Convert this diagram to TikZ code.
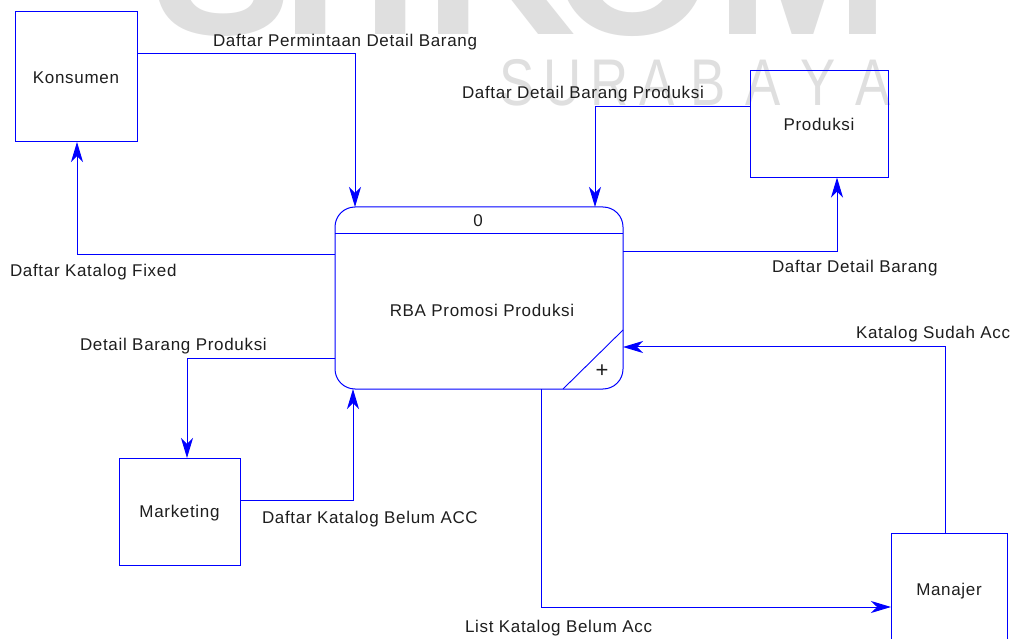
\documentclass[tikz,border=0pt]{standalone}
\usepackage{fontspec}
\setmainfont{Liberation Sans}[LetterSpace=4]
\newfontfamily\wmfont{Liberation Sans}
\usetikzlibrary{arrows.meta,calc}
\definecolor{dfd}{RGB}{0,0,255}
\definecolor{txt}{RGB}{30,30,30}
\definecolor{wm}{RGB}{223,223,223}
\begin{document}
\begin{tikzpicture}[x=1pt,y=-1pt,
  ent/.style={draw=dfd, line width=1pt, inner sep=0pt, outer sep=0pt, text=txt,
    font=\fontsize{17}{20}\selectfont, text height=12.2pt, text depth=0pt},
  procbox/.style={draw=dfd, line width=1pt, inner sep=0pt, outer sep=0pt, rounded corners=20pt},
  flow/.style={draw=dfd, line width=1pt, -{Stealth[length=20pt,width=12pt,inset=6pt]}},
  lbl/.style={text=txt, font=\fontsize{17}{20}\selectfont, inner sep=0pt, outer sep=0pt},
  wmbig/.style={text=wm, font=\wmfont\bfseries\fontsize{210}{210}\selectfont, inner sep=0pt, anchor=base},
  wmsmall/.style={text=wm, font=\wmfont\fontsize{66}{66}\selectfont, inner sep=0pt, anchor=base, xscale=0.8, transform shape}
]
\useasboundingbox (0,0) rectangle (1021,639);
\clip (0,0) rectangle (1021,639);
\fill[white] (0,0) rectangle (1021,639);
% watermark
\node[wmbig] (w1) at (223,35) {S};
\node[wmbig] (w2) at (311,35) {T};
\node[wmbig] (w3) at (391,35) {I};
\node[wmbig] (w4) at (500,35) {K};
\node[wmbig] (w5) at (633,35) {O};
\node[wmbig] (w6) at (803,35) {M};
\node[wmsmall] (s1) at (517,106) {S};
\node[wmsmall] (s2) at (563,106) {U};
\node[wmsmall] (s3) at (610,106) {R};
\node[wmsmall] (s4) at (657,106) {A};
\node[wmsmall] (s5) at (708,106) {B};
\node[wmsmall] (s6) at (763,106) {A};
\node[wmsmall] (s7) at (818,106) {Y};
\node[wmsmall] (s8) at (873,106) {A};

% entities
\node[ent, minimum width=122pt, minimum height=130pt] (kons) at (76,77) {Konsumen};
\node[ent, minimum width=138pt, minimum height=107pt] (prod) at (819,124) {Produksi};
\node[ent, minimum width=121pt, minimum height=107pt] (mark) at (179.5,511.5) {Marketing};
\node[ent, minimum width=116pt, minimum height=112pt] (mana) at (949,589) {Manajer};

% process
\node[procbox, minimum width=288pt, minimum height=182pt] (proc) at (479,298) {};
\draw[dfd, line width=1pt] (proc.west |- 0,234) -- (proc.east |- 0,234);
\draw[dfd, line width=0.9pt] (proc.east |- 0,330) -- (proc.south -| 563,0);
\node[lbl, anchor=base] (pnum) at (478,227) {0};
\node[lbl, anchor=base] (pname) at (482,317) {RBA Promosi Produksi};
\node[text=txt, inner sep=0pt, font=\fontsize{22}{22}\selectfont] (plus) at (602,371) {+};

% flows
\draw[flow] (kons.east |- 0,54) -| (proc.north -| 355,0);
\draw[flow] (proc.west |- 0,255) -| (kons.south -| 77,0);
\draw[flow] (prod.west |- 0,107) -| (proc.north -| 595,0);
\draw[flow] (proc.east |- 0,252) -| (prod.south -| 837,0);
\draw[flow] (mana.north -| 945,0) |- (proc.east |- 0,347);
\draw[flow] (proc.west |- 0,358) -| (mark.north -| 187,0);
\draw[flow] (mark.east |- 0,500) -| (proc.south -| 353,0);
\draw[flow] (proc.south -| 541,0) |- (mana.west |- 0,607);

% flow labels
\node[lbl, anchor=base west] (l1) at (213,47) {Daftar Permintaan Detail Barang};
\node[lbl, anchor=base west] (l2) at (462,99) {Daftar Detail Barang Produksi};
\node[lbl, anchor=base west] (l3) at (10,277) {Daftar Katalog Fixed};
\node[lbl, anchor=base west] (l4) at (772,273) {Daftar Detail Barang};
\node[lbl, anchor=base west] (l5) at (856,338) {Katalog Sudah Acc};
\node[lbl, anchor=base west] (l6) at (80,350) {Detail Barang Produksi};
\node[lbl, anchor=base west] (l7) at (262,523) {Daftar Katalog Belum ACC};
\node[lbl, anchor=base west] (l8) at (465,632) {List Katalog Belum Acc};
\end{tikzpicture}
\end{document}
